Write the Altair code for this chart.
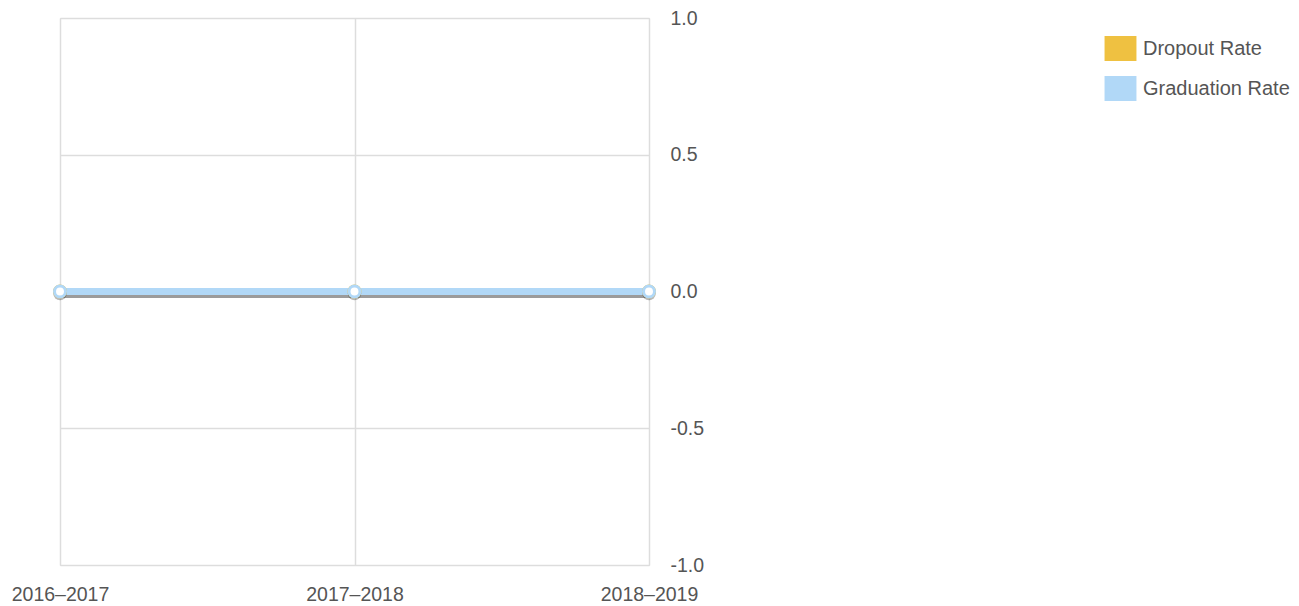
import altair as alt
import pandas as pd

years = ["2016–2017", "2017–2018", "2018–2019"]
series_names = ["Dropout Rate", "Graduation Rate"]
dropout_rate = [0.0, 0.0, 0.0]
graduation_rate = [0.0, 0.0, 0.0]
colors = ["#efc141", "#b1d8f7"]

rows = []
for i, y in enumerate(years):
    rows.append({"year": y, "series": series_names[0], "value": dropout_rate[i], "ord": 0})
for i, y in enumerate(years):
    rows.append({"year": y, "series": series_names[1], "value": graduation_rate[i], "ord": 1})
df = pd.DataFrame(rows)

FONT = "Liberation Sans"
TXT = "#555555"

x_enc = alt.X("year:N", sort=years, scale=alt.Scale(padding=0),
              axis=alt.Axis(title=None, labelAngle=0, labelFontSize=19.5, labelColor=TXT,
                            labelFont=FONT, labelPadding=20, ticks=False, domain=False,
                            grid=True, gridColor="#dddddd", gridWidth=1.5,
                            labelBaseline="top"))
y_enc = alt.Y("value:Q", scale=alt.Scale(domain=[-1, 1], nice=False),
              axis=alt.Axis(title=None, orient="right", values=[-1, -0.5, 0, 0.5, 1],
                            labelExpr="datum.value < 0 ? '-' + format(-datum.value, '.1f') : format(datum.value, '.1f')",
                            labelFontSize=19.5, labelColor=TXT, labelFont=FONT,
                            labelPadding=21, ticks=False, domain=False, grid=True,
                            gridColor="#dddddd", gridWidth=1.5))

color_scale = alt.Scale(domain=series_names, range=colors)

base = alt.Chart(df).encode(x=x_enc, y=y_enc)

legend_layer = base.mark_square(filled=True, opacity=1, stroke="#cfcfcf",
                                strokeWidth=2).transform_filter("false").encode(
    color=alt.Color("series:N", scale=color_scale,
                    legend=alt.Legend(title=None, orient="none", legendX=1048, legendY=18,
                                      symbolType="M-1.3,-1H1.3V1H-1.3Z", symbolSize=529,
                                      symbolStrokeColor="#cfcfcf", symbolStrokeWidth=2,
                                      symbolOpacity=1, labelFontSize=20, labelColor=TXT,
                                      labelFont=FONT, rowPadding=9, labelOffset=10,
                                      padding=0)))

shadow = base.mark_line(strokeWidth=7, color="#000000", opacity=0.22, yOffset=3).encode(
    detail="series:N")
lines = base.mark_line(strokeWidth=7, strokeCap="butt").encode(
    stroke=alt.Stroke("series:N", scale=color_scale, legend=None), order="ord:Q")
pt_shadow = base.mark_point(filled=True, size=180, color="#000000", opacity=0.15, yOffset=2,
                            shape="circle")
points = base.mark_point(filled=True, size=120, fill="white", strokeWidth=3, opacity=1,
                         shape="circle").encode(
    stroke=alt.Stroke("series:N", scale=color_scale, legend=None))

chart = alt.layer(legend_layer, shadow, lines, pt_shadow, points).properties(
    width=589, height=547,
    autosize=alt.AutoSizeParams(type="none"),
    padding={"left": 52, "top": 10, "right": 642, "bottom": 45},
).configure_view(stroke=None).configure(font=FONT)

chart.save("out.html", embed_options={"renderer": "svg", "actions": False})
